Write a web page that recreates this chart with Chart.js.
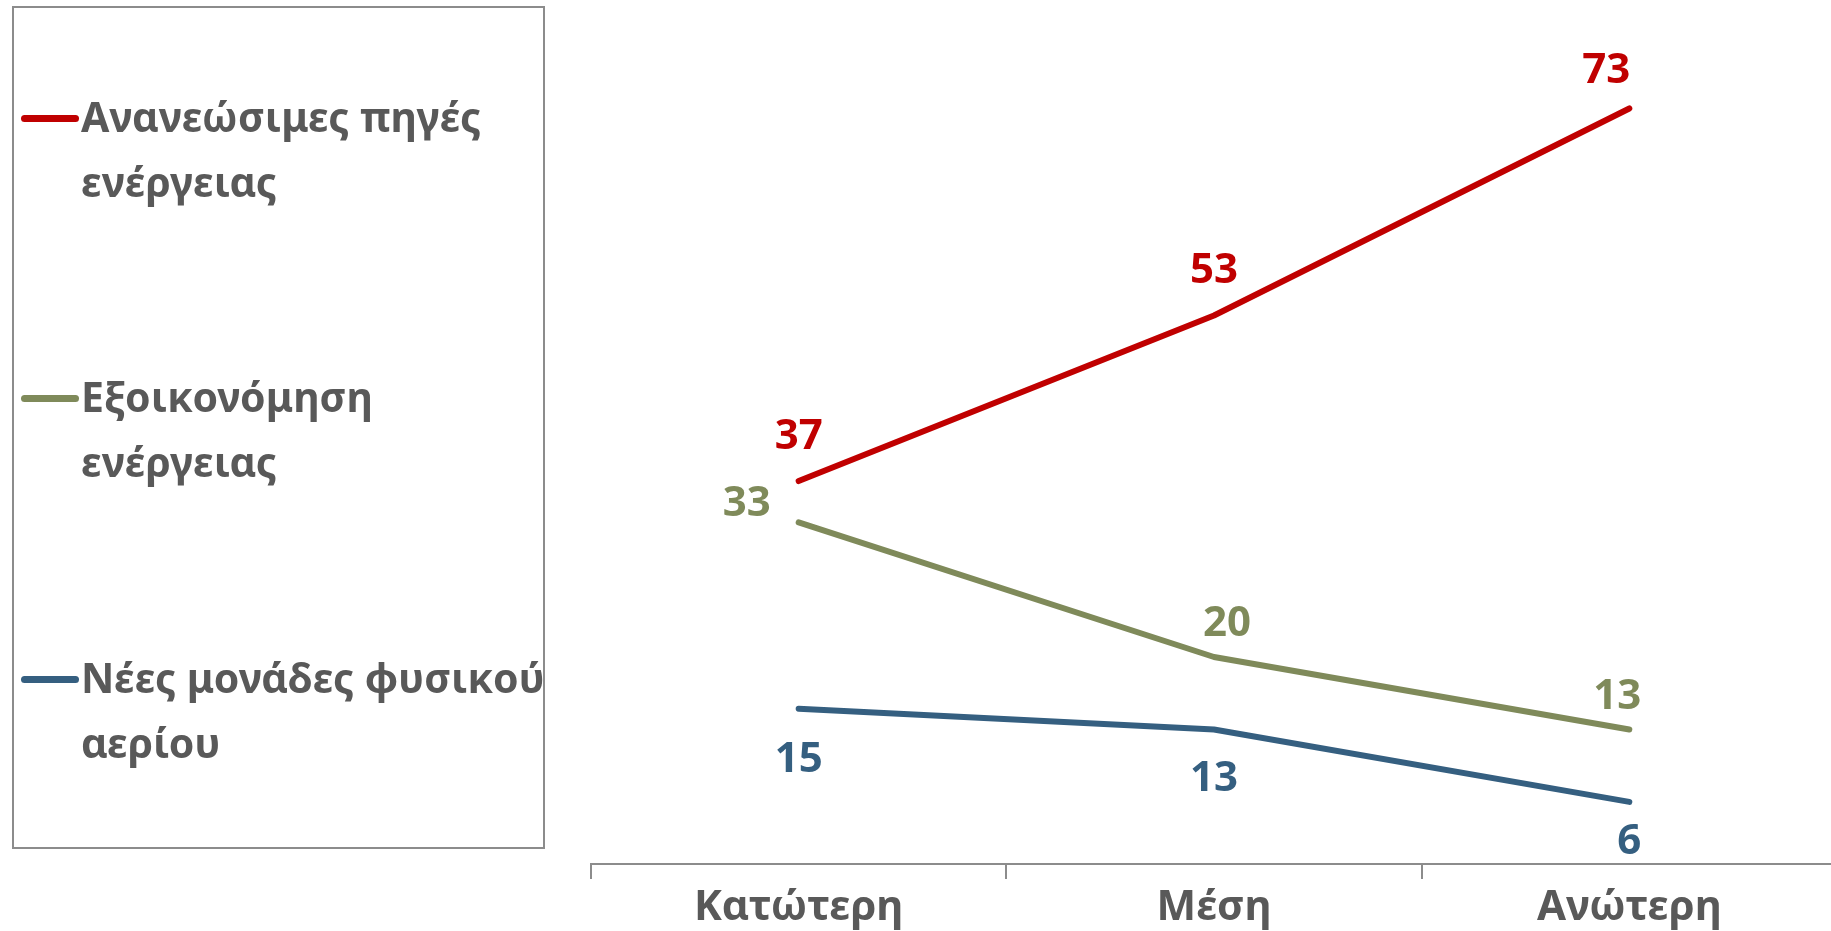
<!DOCTYPE html>
<html>
<head>
<meta charset="utf-8">
<script src="https://cdn.jsdelivr.net/npm/chart.js@4.4.0/dist/chart.umd.min.js"></script>
<style>
  html, body { margin: 0; padding: 0; background: #fff; overflow: hidden; }
  #wrap { position: relative; width: 1831px; height: 931px; overflow: hidden; }
  #myChart { position: absolute; left: 0; top: 0; }
  #legend {
    position: absolute; left: 12px; top: 6px; width: 529px; height: 839px;
    border: 2px solid #8c8c8c; font-family: "Noto Sans"; font-weight: bold;
    font-size: 41px; color: #595959;
  }
  .item { position: absolute; left: 0; line-height: 65px; white-space: nowrap; }
  .item .mark { position: absolute; left: 7px; top: 31px; width: 58px; height: 7px; border-radius: 3.5px; }
  .item .txt { position: absolute; left: 67px; top: 0; }
</style>
</head>
<body>
<div id="wrap">
  <canvas id="myChart" width="1837" height="931"></canvas>
  <div id="legend"></div>
</div>
<script>
// categories (education level)
var categories = ["Κατώτερη", "Μέση", "Ανώτερη"];

// series names, split in the lines used by the legend
var renewablesName = ["Ανανεώσιμες πηγές", "ενέργειας"];
var savingName = ["Εξοικονόμηση", "ενέργειας"];
var gasName = ["Νέες μονάδες φυσικού", "αερίου"];

// series values
var renewables = [37, 53, 73];
var saving = [33, 20, 13];
var gas = [15, 13, 6];

var red = "#c00000";
var olive = "#7f8a5a";
var blue = "#355f80";
var textGrey = "#595959";

// value labels drawn next to every point
var valueLabels = {
  id: "valueLabels",
  afterDatasetsDraw: function (chart) {
    var ctx = chart.ctx;
    ctx.save();
    ctx.font = "bold 42px 'Noto Sans'";
    ctx.textAlign = "center";
    ctx.textBaseline = "middle";
    chart.data.datasets.forEach(function (ds, i) {
      var meta = chart.getDatasetMeta(i);
      ctx.fillStyle = ds.borderColor;
      meta.data.forEach(function (pt, j) {
        var off = ds.labelOffsets[j];
        ctx.fillText(ds.data[j], pt.x + off[0], pt.y + off[1]);
      });
    });
    ctx.restore();
  }
};

var ctx = document.getElementById("myChart").getContext("2d");
var chart = new Chart(ctx, {
  type: "line",
  data: {
    labels: categories,
    datasets: [
      {
        label: renewablesName.join(" "),
        data: renewables,
        borderColor: red,
        backgroundColor: red,
        labelOffsets: [[0, -44], [0, -44], [-23, -37]]
      },
      {
        label: savingName.join(" "),
        data: saving,
        borderColor: olive,
        backgroundColor: olive,
        labelOffsets: [[-52, -18], [13, -33], [-12, -32]]
      },
      {
        label: gasName.join(" "),
        data: gas,
        borderColor: blue,
        backgroundColor: blue,
        labelOffsets: [[0, 51], [0, 50], [0, 40]]
      }
    ]
  },
  options: {
    responsive: false,
    animation: false,
    layout: { padding: { left: 591, top: 36, right: 0, bottom: 0 } },
    elements: {
      line: { borderWidth: 6, tension: 0, borderCapStyle: "round", borderJoinStyle: "round" },
      point: { radius: 0, hoverRadius: 0 }
    },
    plugins: {
      legend: { display: false },
      tooltip: { enabled: false }
    },
    scales: {
      x: {
        offset: true,
        grid: { offset: true, drawOnChartArea: false, color: "#8c8c8c", lineWidth: 2, tickLength: 15 },
        border: { color: "#8c8c8c", width: 2 },
        ticks: { color: textGrey, font: { family: "Noto Sans", size: 42, weight: "bold" }, padding: 4 },
        afterFit: function (scale) { scale.height = 67; }
      },
      y: {
        display: false,
        min: 0,
        max: 80
      }
    }
  },
  plugins: [valueLabels]
});

// html legend with wrapped names
var legendNames = [renewablesName, savingName, gasName];
var legendTops = [76, 356, 637];
var legendEl = document.getElementById("legend");
chart.data.datasets.forEach(function (ds, i) {
  var item = document.createElement("div");
  item.className = "item";
  item.style.top = legendTops[i] + "px";
  var mark = document.createElement("div");
  mark.className = "mark";
  mark.style.background = ds.borderColor;
  var txt = document.createElement("div");
  txt.className = "txt";
  txt.innerHTML = legendNames[i].join("<br>");
  item.appendChild(mark);
  item.appendChild(txt);
  legendEl.appendChild(item);
});
</script>
</body>
</html>
